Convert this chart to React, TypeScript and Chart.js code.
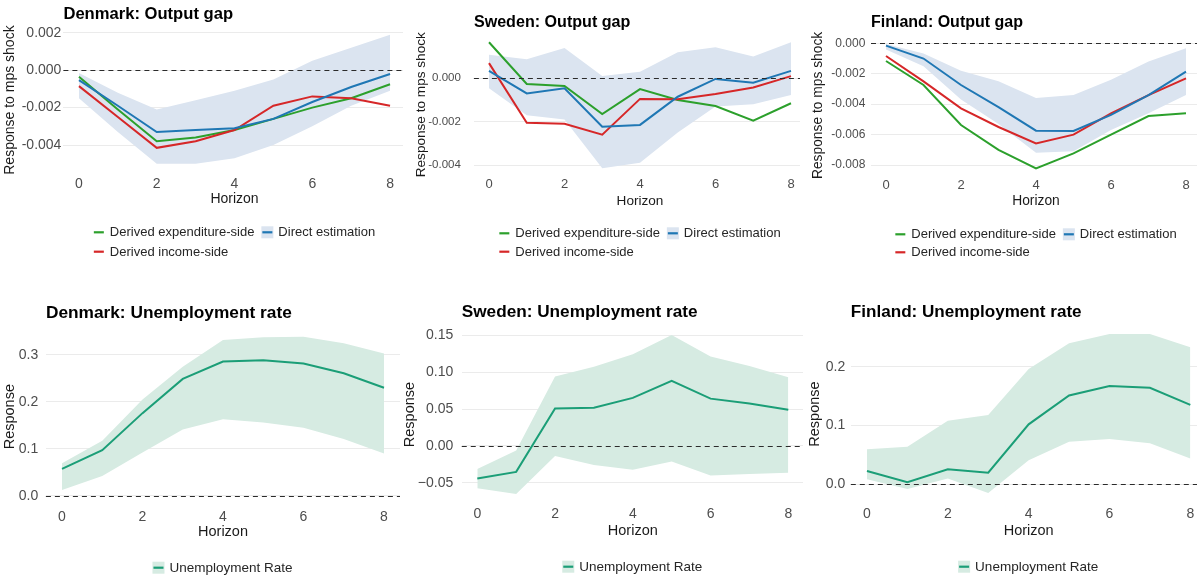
import React, { useEffect, useRef } from "react";
import { Chart, registerables } from "chart.js";

Chart.register(...registerables);

const FONT = '"Liberation Sans", Arial, Helvetica, sans-serif';

// ---------- shared axis data ----------
const horizons = [0, 1, 2, 3, 4, 5, 6, 7, 8];
const xTickValues = [0, 2, 4, 6, 8];
const xTickLabels = ["0", "2", "4", "6", "8"];

const seriesExpenditure = "Derived expenditure-side";
const seriesIncome = "Derived income-side";
const seriesDirect = "Direct estimation";
const seriesUnemployment = "Unemployment Rate";

// ---------- Denmark: Output gap ----------
const dkOgExpenditure = [-0.00035, -0.0021, -0.0038, -0.0036, -0.0032, -0.0026, -0.002, -0.0015, -0.00075];
const dkOgIncome = [-0.00085, -0.0025, -0.00415, -0.0038, -0.0032, -0.0019, -0.0014, -0.0015, -0.0019];
const dkOgDirect = [-0.00053, -0.0019, -0.0033, -0.0032, -0.0031, -0.0026, -0.0017, -0.0009, -0.0002];
const dkOgDirectLower = [-0.0015, -0.0033, -0.005, -0.005, -0.0047, -0.004, -0.003, -0.0019, -0.0011];
const dkOgDirectUpper = [-0.00015, -0.0012, -0.0021, -0.0016, -0.0011, -0.0005, 0.0005, 0.0012, 0.0019];
const dkOgTicks = [0.002, 0, -0.002, -0.004];
const dkOgTickLabels = ["0.002", "0.000", "-0.002", "-0.004"];

// ---------- Sweden: Output gap ----------
const seOgExpenditure = [0.00166, -0.00026, -0.00035, -0.00165, -0.0005, -0.001, -0.00128, -0.00195, -0.00115];
const seOgIncome = [0.0007, -0.00205, -0.0021, -0.0026, -0.00095, -0.00097, -0.00072, -0.00042, 0.0001];
const seOgDirect = [0.00034, -0.0007, -0.00046, -0.00223, -0.00215, -0.00085, -0.00003, -0.0002, 0.00034];
const seOgDirectLower = [-0.00046, -0.0017, -0.0019, -0.00415, -0.0039, -0.0025, -0.0013, -0.0012, -0.00077];
const seOgDirectUpper = [0.00108, 0.00088, 0.0014, 0.0001, 0.0003, 0.0012, 0.00143, 0.001, 0.00166];
const seOgTicks = [0, -0.002, -0.004];
const seOgTickLabels = ["0.000", "-0.002", "-0.004"];

// ---------- Finland: Output gap ----------
const fiOgExpenditure = [-0.00116, -0.00274, -0.00537, -0.007, -0.00822, -0.00723, -0.006, -0.00478, -0.0046];
const fiOgIncome = [-0.00083, -0.0025, -0.00427, -0.0055, -0.00658, -0.006, -0.0046, -0.0034, -0.0023];
const fiOgDirect = [-0.00015, -0.001, -0.00274, -0.0042, -0.00574, -0.00576, -0.0047, -0.0034, -0.00186];
const fiOgDirectLower = [-0.0004, -0.0015, -0.0037, -0.0053, -0.0072, -0.0071, -0.0057, -0.0046, -0.0034];
const fiOgDirectUpper = [-0.00005, -0.00066, -0.0018, -0.0025, -0.0036, -0.0034, -0.0024, -0.0012, -0.00033];
const fiOgTicks = [0, -0.002, -0.004, -0.006, -0.008];
const fiOgTickLabels = ["0.000", "-0.002", "-0.004", "-0.006", "-0.008"];

// ---------- Denmark: Unemployment rate ----------
const dkUr = [0.057, 0.097, 0.176, 0.249, 0.286, 0.289, 0.282, 0.261, 0.23];
const dkUrLower = [0.012, 0.042, 0.092, 0.141, 0.163, 0.156, 0.145, 0.121, 0.09];
const dkUrUpper = [0.069, 0.117, 0.205, 0.275, 0.332, 0.338, 0.339, 0.325, 0.303];
const dkUrTicks = [0, 0.1, 0.2, 0.3];
const dkUrTickLabels = ["0.0", "0.1", "0.2", "0.3"];

// ---------- Sweden: Unemployment rate ----------
const seUr = [-0.044, -0.035, 0.0508, 0.0517, 0.065, 0.088, 0.064, 0.0575, 0.049];
const seUrLower = [-0.057, -0.065, -0.0135, -0.0256, -0.032, -0.021, -0.04, -0.038, -0.036];
const seUrUpper = [-0.031, -0.006, 0.094, 0.107, 0.124, 0.15, 0.121, 0.108, 0.093];
const seUrTicks = [-0.05, 0, 0.05, 0.1, 0.15];
const seUrTickLabels = ["\u22120.05", "0.00", "0.05", "0.10", "0.15"];

// ---------- Finland: Unemployment rate ----------
const fiUr = [0.0227, 0.0034, 0.0255, 0.0198, 0.102, 0.151, 0.167, 0.164, 0.135];
const fiUrLower = [0.0085, -0.008, 0.01, -0.015, 0.041, 0.0725, 0.077, 0.07, 0.044];
const fiUrUpper = [0.0595, 0.064, 0.108, 0.118, 0.196, 0.24, 0.2555, 0.2555, 0.233];
const fiUrTicks = [0, 0.1, 0.2];
const fiUrTickLabels = ["0.0", "0.1", "0.2"];

// ---------- styles ----------
const C_EXP = "#2ca02c";
const C_INC = "#d62728";
const C_DIR = "#1f77b4";
const C_DIR_BAND = "#dbe4f0";
const C_UR = "#1b9e77";
const C_UR_BAND = "#d6ebe2";

type LineSpec = { label: string; values: number[]; color: string };
type LegendItem = { label: string; color: string; fill?: string };
type PanelCfg = {
  box: { left: number; top: number; width: number; height: number };
  area: { left: number; right: number; top: number; bottom: number };
  xAxisHeight: number;
  yMin: number;
  yMax: number;
  yTicks: number[];
  yTickLabels: string[];
  yTickPad: number;
  xTickPad: number;
  yTitle: string;
  yTitlePad: number;
  title: string;
  titleBaseline: number;
  titleSize: number;
  xTickSize: number;
  yTickSize: number;
  axisTitleSize: number;
  lines: LineSpec[];
  band: { lower: number[]; upper: number[]; color: string };
  legendColumns: LegendItem[][];
  legendY: number;
  legendRowGap: number;
  legendSize: number;
};

const ogLegend = (): LegendItem[][] => [
  [
    { label: seriesExpenditure, color: C_EXP },
    { label: seriesIncome, color: C_INC },
  ],
  [{ label: seriesDirect, color: C_DIR, fill: C_DIR_BAND }],
];
const urLegend = (): LegendItem[][] => [[{ label: seriesUnemployment, color: C_UR, fill: C_UR_BAND }]];

const panels: PanelCfg[] = [
  {
    box: { left: 0, top: 0, width: 406, height: 270 },
    area: { left: 63.4, right: 405.6, top: 28.1, bottom: 172 },
    xAxisHeight: 35.6,
    yMin: -0.00544,
    yMax: 0.00225,
    yTicks: dkOgTicks,
    yTickLabels: dkOgTickLabels,
    yTickPad: 2,
    xTickPad: 3.6,
    yTitle: "Response to mps shock",
    yTitlePad: 1.3,
    title: "Denmark: Output gap",
    titleBaseline: 19.3,
    titleSize: 16.6,
    xTickSize: 14,
    yTickSize: 14,
    axisTitleSize: 14,
    lines: [
      { label: seriesExpenditure, values: dkOgExpenditure, color: C_EXP },
      { label: seriesIncome, values: dkOgIncome, color: C_INC },
      { label: seriesDirect, values: dkOgDirect, color: C_DIR },
    ],
    band: { lower: dkOgDirectLower, upper: dkOgDirectUpper, color: C_DIR_BAND },
    legendColumns: ogLegend(),
    legendY: 232.3,
    legendRowGap: 19.4,
    legendSize: 13,
  },
  {
    box: { left: 403, top: 0, width: 404, height: 270 },
    area: { left: 70.9, right: 403.1, top: 36, bottom: 173.5 },
    xAxisHeight: 35.7,
    yMin: -0.00439,
    yMax: 0.00195,
    yTicks: seOgTicks,
    yTickLabels: seOgTickLabels,
    yTickPad: 13,
    xTickPad: 3.6,
    yTitle: "Response to mps shock",
    yTitlePad: 10.3,
    title: "Sweden: Output gap",
    titleBaseline: 26.7,
    titleSize: 16.1,
    xTickSize: 13,
    yTickSize: 11.5,
    axisTitleSize: 13.6,
    lines: [
      { label: seriesExpenditure, values: seOgExpenditure, color: C_EXP },
      { label: seriesIncome, values: seOgIncome, color: C_INC },
      { label: seriesDirect, values: seOgDirect, color: C_DIR },
    ],
    band: { lower: seOgDirectLower, upper: seOgDirectUpper, color: C_DIR_BAND },
    legendColumns: ogLegend(),
    legendY: 233.3,
    legendRowGap: 18.4,
    legendSize: 13,
  },
  {
    box: { left: 800, top: 0, width: 402, height: 270 },
    area: { left: 71, right: 401, top: 36.8, bottom: 174 },
    xAxisHeight: 35.2,
    yMin: -0.00859,
    yMax: 0.00043,
    yTicks: fiOgTicks,
    yTickLabels: fiOgTickLabels,
    yTickPad: 5.7,
    xTickPad: 3.6,
    yTitle: "Response to mps shock",
    yTitlePad: 10.3,
    title: "Finland: Output gap",
    titleBaseline: 27.3,
    titleSize: 16,
    xTickSize: 13,
    yTickSize: 12,
    axisTitleSize: 13.8,
    lines: [
      { label: seriesExpenditure, values: fiOgExpenditure, color: C_EXP },
      { label: seriesIncome, values: fiOgIncome, color: C_INC },
      { label: seriesDirect, values: fiOgDirect, color: C_DIR },
    ],
    band: { lower: fiOgDirectLower, upper: fiOgDirectUpper, color: C_DIR_BAND },
    legendColumns: ogLegend(),
    legendY: 234.3,
    legendRowGap: 18,
    legendSize: 13,
  },
  {
    box: { left: 0, top: 290, width: 401, height: 288 },
    area: { left: 45.9, right: 400.1, top: 38.7, bottom: 214.7 },
    xAxisHeight: 36.2,
    yMin: -0.0192,
    yMax: 0.356,
    yTicks: dkUrTicks,
    yTickLabels: dkUrTickLabels,
    yTickPad: 7.6,
    xTickPad: 3.6,
    yTitle: "Response",
    yTitlePad: 0.8,
    title: "Denmark: Unemployment rate",
    titleBaseline: 28.3,
    titleSize: 17.3,
    xTickSize: 14,
    yTickSize: 14,
    axisTitleSize: 14.5,
    lines: [{ label: seriesUnemployment, values: dkUr, color: C_UR }],
    band: { lower: dkUrLower, upper: dkUrUpper, color: C_UR_BAND },
    legendColumns: urLegend(),
    legendY: 277.7,
    legendRowGap: 19,
    legendSize: 13.5,
  },
  {
    box: { left: 400, top: 290, width: 404, height: 288 },
    area: { left: 61.75, right: 403.85, top: 37.1, bottom: 212 },
    xAxisHeight: 37.4,
    yMin: -0.0757,
    yMax: 0.1607,
    yTicks: seUrTicks,
    yTickLabels: seUrTickLabels,
    yTickPad: 8.5,
    xTickPad: 3.6,
    yTitle: "Response",
    yTitlePad: 0.8,
    title: "Sweden: Unemployment rate",
    titleBaseline: 27.3,
    titleSize: 17.2,
    xTickSize: 14,
    yTickSize: 14,
    axisTitleSize: 14.5,
    lines: [{ label: seriesUnemployment, values: seUr, color: C_UR }],
    band: { lower: seUrLower, upper: seUrUpper, color: C_UR_BAND },
    legendColumns: urLegend(),
    legendY: 276.7,
    legendRowGap: 19,
    legendSize: 13.5,
  },
  {
    box: { left: 803, top: 290, width: 404, height: 288 },
    area: { left: 47.8, right: 403.5, top: 36.1, bottom: 212 },
    xAxisHeight: 37.4,
    yMin: -0.0301,
    yMax: 0.269,
    yTicks: fiUrTicks,
    yTickLabels: fiUrTickLabels,
    yTickPad: 5.5,
    xTickPad: 3.6,
    yTitle: "Response",
    yTitlePad: 3.1,
    title: "Finland: Unemployment rate",
    titleBaseline: 26.7,
    titleSize: 17.1,
    xTickSize: 14,
    yTickSize: 14,
    axisTitleSize: 14.5,
    lines: [{ label: seriesUnemployment, values: fiUr, color: C_UR }],
    band: { lower: fiUrLower, upper: fiUrUpper, color: C_UR_BAND },
    legendColumns: urLegend(),
    legendY: 276.7,
    legendRowGap: 19,
    legendSize: 13.5,
  },
];

function Panel({ cfg }: { cfg: PanelCfg }) {
  const ref = useRef<HTMLCanvasElement | null>(null);

  useEffect(() => {
    const canvas = ref.current;
    if (!canvas) return;
    const { box, area } = cfg;
    const toPts = (vals: number[]) => horizons.map((h, i) => ({ x: h, y: vals[i] }));

    const datasets: any[] = cfg.lines.map((l, i) => ({
      label: l.label,
      data: toPts(l.values),
      borderColor: l.color,
      backgroundColor: l.color,
      borderWidth: 2,
      pointRadius: 0,
      fill: false,
      tension: 0,
      order: cfg.lines.length - i,
    }));
    datasets.push({
      label: "band-lower",
      data: toPts(cfg.band.lower),
      borderWidth: 0,
      borderColor: "rgba(0,0,0,0)",
      backgroundColor: "rgba(0,0,0,0)",
      pointRadius: 0,
      fill: false,
      order: 10,
    });
    datasets.push({
      label: "band-upper",
      data: toPts(cfg.band.upper),
      borderWidth: 0,
      borderColor: "rgba(0,0,0,0)",
      backgroundColor: cfg.band.color,
      pointRadius: 0,
      fill: "-1",
      order: 10,
    });

    const titlePlugin = {
      id: "panelTitle",
      afterDraw(chart: any) {
        const ctx = chart.ctx;
        ctx.save();
        ctx.font = `bold ${cfg.titleSize}px ${FONT}`;
        ctx.fillStyle = "#000000";
        ctx.textAlign = "left";
        ctx.textBaseline = "alphabetic";
        ctx.fillText(cfg.title, chart.chartArea.left, cfg.titleBaseline);
        ctx.restore();
      },
    };

    const zeroLinePlugin = {
      id: "zeroLine",
      afterDatasetsDraw(chart: any) {
        const ctx = chart.ctx;
        const y = Math.round(chart.scales.y.getPixelForValue(0)) + 0.5;
        ctx.save();
        ctx.strokeStyle = "#2b2b2b";
        ctx.lineWidth = 1;
        ctx.setLineDash([5, 4]);
        ctx.beginPath();
        ctx.moveTo(chart.chartArea.left, y);
        ctx.lineTo(chart.chartArea.right, y);
        ctx.stroke();
        ctx.restore();
      },
    };

    const legendPlugin = {
      id: "panelLegend",
      afterDraw(chart: any) {
        const ctx = chart.ctx;
        ctx.save();
        ctx.font = `${cfg.legendSize}px ${FONT}`;
        const keyW = 10;
        const gap = 6;
        const colGap = 8;
        const colWidths = cfg.legendColumns.map(
          (col) => keyW + gap + Math.max(...col.map((it) => ctx.measureText(it.label).width))
        );
        const total = colWidths.reduce((a, b) => a + b, 0) + colGap * (colWidths.length - 1);
        const center = (chart.chartArea.left + chart.chartArea.right) / 2;
        let x = center - total / 2;
        cfg.legendColumns.forEach((col, ci) => {
          col.forEach((it, ri) => {
            const y = cfg.legendY + ri * cfg.legendRowGap;
            if (it.fill) {
              ctx.fillStyle = it.fill;
              ctx.fillRect(x - 1, y - 6, keyW + 2, 12);
            }
            ctx.strokeStyle = it.color;
            ctx.lineWidth = 2.2;
            ctx.beginPath();
            ctx.moveTo(x, y);
            ctx.lineTo(x + keyW, y);
            ctx.stroke();
            ctx.fillStyle = "#262626";
            ctx.textAlign = "left";
            ctx.textBaseline = "middle";
            ctx.fillText(it.label, x + keyW + gap, y + 0.5);
          });
          x += colWidths[ci] + colGap;
        });
        ctx.restore();
      },
    };

    const chart = new Chart(canvas, {
      type: "line",
      data: { datasets },
      plugins: [titlePlugin, zeroLinePlugin, legendPlugin],
      options: {
        animation: false,
        responsive: false,
        devicePixelRatio: 1,
        events: [],
        layout: {
          padding: {
            left: 0,
            top: area.top,
            right: box.width - area.right,
            bottom: box.height - area.bottom - cfg.xAxisHeight,
          },
        },
        plugins: {
          legend: { display: false },
          tooltip: { enabled: false },
          title: { display: false },
        },
        scales: {
          x: {
            type: "linear",
            min: -0.4,
            max: 8.4,
            bounds: "data",
            afterBuildTicks: (s: any) => {
              s.ticks = xTickValues.map((v) => ({ value: v }));
            },
            afterFit: (s: any) => {
              s.height = cfg.xAxisHeight;
            },
            grid: { display: false, drawTicks: false },
            border: { display: false },
            ticks: {
              autoSkip: false,
              maxRotation: 0,
              padding: cfg.xTickPad,
              color: "#4d4d4d",
              font: { family: FONT, size: cfg.xTickSize },
              callback: (_v: any, i: number) => xTickLabels[i],
            },
            title: {
              display: true,
              text: "Horizon",
              color: "#1a1a1a",
              font: { family: FONT, size: cfg.axisTitleSize },
              padding: { top: 0, bottom: 0 },
            },
          },
          y: {
            type: "linear",
            min: cfg.yMin,
            max: cfg.yMax,
            bounds: "data",
            afterBuildTicks: (s: any) => {
              s.ticks = cfg.yTicks.map((v) => ({ value: v }));
            },
            afterFit: (s: any) => {
              s.width = area.left;
            },
            grid: { color: "#ebebeb", lineWidth: 1, drawTicks: false },
            border: { display: false },
            ticks: {
              autoSkip: false,
              padding: cfg.yTickPad,
              color: "#4d4d4d",
              font: { family: FONT, size: cfg.yTickSize },
              callback: (_v: any, i: number) => cfg.yTickLabels[i],
            },
            title: {
              display: true,
              text: cfg.yTitle,
              color: "#1a1a1a",
              font: { family: FONT, size: cfg.axisTitleSize },
              padding: { top: cfg.yTitlePad, bottom: 0 },
            },
          },
        },
      } as any,
    });

    return () => chart.destroy();
  }, [cfg]);

  const { box } = cfg;
  return (
    <div
      style={{
        position: "absolute",
        left: box.left,
        top: box.top,
        width: box.width,
        height: box.height,
        background: "#ffffff",
      }}
    >
      <canvas
        ref={ref}
        width={box.width}
        height={box.height}
        style={{ display: "block", width: box.width, height: box.height }}
      />
    </div>
  );
}

export default function App() {
  return (
    <div
      style={{
        position: "fixed",
        left: 0,
        top: 0,
        width: 1197,
        height: 578,
        overflow: "hidden",
        background: "#ffffff",
      }}
    >
      {panels.map((p, i) => (
        <Panel key={i} cfg={p} />
      ))}
    </div>
  );
}
